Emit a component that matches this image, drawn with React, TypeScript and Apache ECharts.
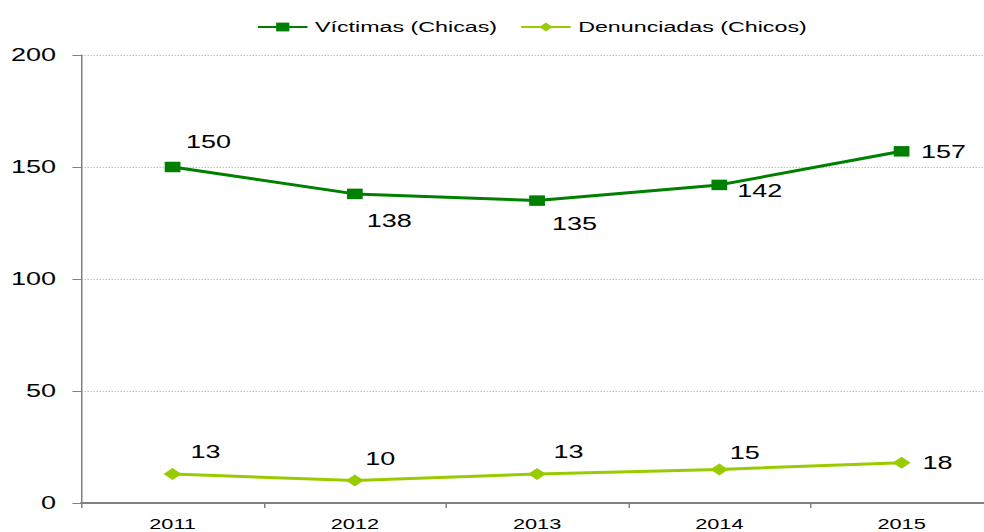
import React, { useEffect, useRef } from "react";
import * as echarts from "echarts";

const years = ["2011", "2012", "2013", "2014", "2015"];
const victimas = [150, 138, 135, 142, 157];
const denunciadas = [13, 10, 13, 15, 18];
const seriesNames = ["Víctimas (Chicas)", "Denunciadas (Chicos)"];

// label offsets (in unstretched px) relative to each marker
const vicOffsets = [[24, -25], [23, 27], [25, 23], [27, 6], [28, 0]];
const denOffsets = [[22, -22], [17, -22], [21, -22], [17, -17], [24, 0]];

// the reference is horizontally stretched; draw narrower and stretch
const STRETCH = 1.5;
const W = 984 / STRETCH;
const H = 532;

export default function App() {
  const ref = useRef<HTMLDivElement>(null);
  useEffect(() => {
    const chart = echarts.init(ref.current!, undefined, { renderer: "svg" });
    const font = "'Liberation Sans', Arial, sans-serif";
    const mk = (vals: number[], offs: number[][]) =>
      vals.map((v, i) => ({
        value: v,
        label: { show: true, position: "inside", offset: offs[i] },
      }));
    chart.setOption({
      animation: false,
      textStyle: { fontFamily: font },
      legend: {
        top: 14,
        left: 166,
        itemWidth: 33,
        itemHeight: 11,
        itemGap: 15,
        textStyle: { fontSize: 15.5, color: "#000", fontFamily: font },
        data: seriesNames,
      },
      grid: {
        left: 54.3,
        right: -5.8,
        top: 55,
        bottom: 29,
        outerBoundsMode: "none",
        containLabel: false,
      },
      xAxis: {
        type: "category",
        data: years,
        boundaryGap: true,
        axisLine: { lineStyle: { color: "#808080", width: 2 } },
        axisTick: { show: true, length: 5, lineStyle: { color: "#808080" } },
        axisLabel: { fontSize: 14.5, color: "#000", margin: 13, fontFamily: font },
      },
      yAxis: {
        type: "value",
        min: 0,
        max: 200,
        interval: 50,
        axisLine: { show: true, lineStyle: { color: "#808080", width: 1 } },
        axisTick: { show: true, length: 6, inside: false, lineStyle: { color: "#808080" } },
        axisLabel: { fontSize: 18, color: "#000", margin: 17, fontFamily: font },
        splitLine: { lineStyle: { color: "#c0c0c0", type: "dotted", width: 1 } },
      },
      series: [
        {
          name: seriesNames[0],
          type: "line",
          data: mk(victimas, vicOffsets),
          symbol: "rect",
          symbolSize: 10.5,
          lineStyle: { color: "#008000", width: 3 },
          itemStyle: { color: "#008000" },
          label: { fontSize: 18, color: "#000", fontFamily: font },
        },
        {
          name: seriesNames[1],
          type: "line",
          data: mk(denunciadas, denOffsets),
          symbol: "diamond",
          symbolSize: 12,
          lineStyle: { color: "#99cc00", width: 3 },
          itemStyle: { color: "#99cc00" },
          label: { fontSize: 18, color: "#000", fontFamily: font },
        },
      ],
    });
    return () => chart.dispose();
  }, []);
  return (
    <div
      ref={ref}
      style={{
        width: W,
        height: H,
        position: "absolute",
        left: 0,
        top: 0,
        transform: `scaleX(${STRETCH})`,
        transformOrigin: "0 0",
      }}
    />
  );
}
